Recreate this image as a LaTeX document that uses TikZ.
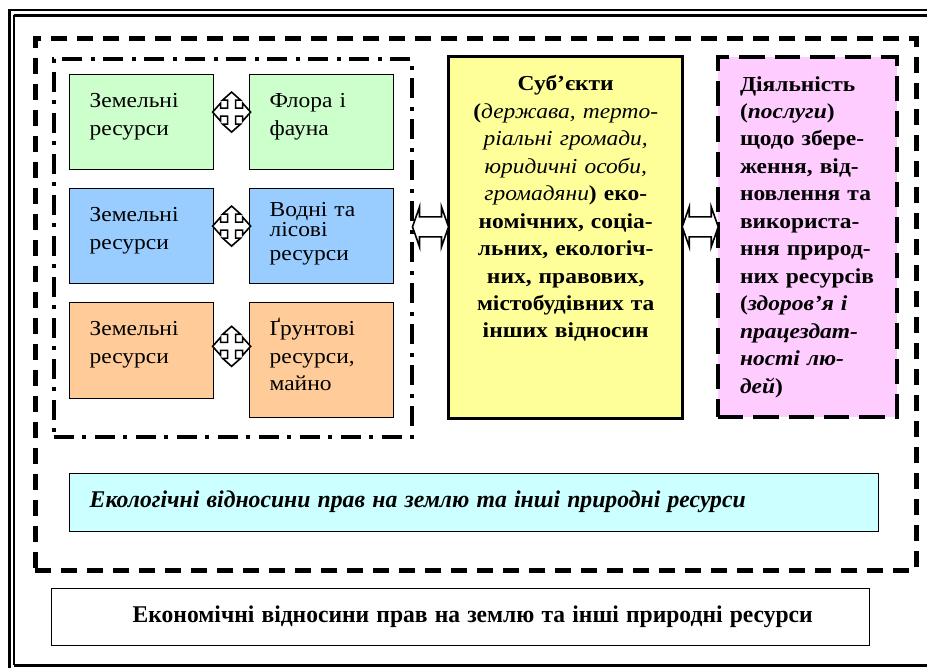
\documentclass[tikz,border=0pt]{standalone}
\usepackage{fontspec}
\setmainfont{Liberation Serif}[FakeStretch=1.1]
\usepackage{graphicx}
\usetikzlibrary{calc}
\definecolor{gfill}{HTML}{CCFFCC}
\definecolor{bfill}{HTML}{99CCFF}
\definecolor{ofill}{HTML}{FFCC99}
\definecolor{yfill}{HTML}{FFFF99}
\definecolor{pfill}{HTML}{FFCCFF}
\definecolor{cfill}{HTML}{CCFFFF}
\tikzset{
  txtfont/.style={font=\fontsize{16pt}{20.6pt}\selectfont},
  sbox/.style={draw, line width=0.9pt, anchor=north west, inner xsep=15pt, inner ysep=0pt,
    text width=78pt, align=left, txtfont, text height=24.75pt, text depth=46.5pt},
  fourway/.pic={\draw[fill=white, line width=1.2pt, miter limit=4]
    (19,0) -- (11,-9) -- (11,-4) -- (4,-4) -- (4,-12) -- (9,-12) -- (0,-20) -- (-9,-12)
    -- (-4,-12) -- (-4,-4) -- (-11,-4) -- (-11,-9) -- (-19,0) -- (-11,9) -- (-11,4)
    -- (-4,4) -- (-4,12) -- (-9,12) -- (0,20) -- (9,12) -- (4,12) -- (4,4)
    -- (11,4) -- (11,9) -- cycle;},
  dblarrow/.pic={\draw[fill=white, line width=1.2pt]
    (-18,0) -- (-11,-20) -- (-11,-10) -- (11,-10) -- (11,-20) -- (18,0) -- (11,20)
    -- (11,10) -- (-11,10) -- (-11,20) -- cycle;}
}
\begin{document}
\hyphenpenalty=10000
\exhyphenpenalty=10000
\begin{tikzpicture}[x=0.75pt,y=-0.75pt]
\useasboundingbox (0,0) rectangle (927,667);
\fill[white] (0,0) rectangle (927,667);
\clip (0,0) rectangle (927,667);
% outer double frame
\draw[line width=2.25pt] (9.5,700) -- (9.5,9.5);
\draw[line width=1pt] (8.5,10) -- (960,10);
\draw[line width=1.7pt] (13.5,15.5) -- (960,15.5);
\draw[line width=1.1pt] (14,15) -- (14,665);
\draw[line width=2.25pt] (13.5,665) -- (960,665);
% containers
\node[draw, line width=3.4pt, dash pattern=on 12pt off 7.5pt, anchor=north west, inner sep=0pt,
  minimum width=660.75pt, minimum height=399pt] (outer) at (33,36) {};
\node[draw, line width=3pt, dash pattern=on 15pt off 6pt on 3pt off 6.75pt, anchor=north west, inner sep=0pt,
  minimum width=268.5pt, minimum height=283.5pt] (dd) at (52,57) {};
% small boxes
\node[sbox, fill=gfill] (g1) at (69,74) {Земельні\\ресурси};
\node[sbox, fill=gfill] (g2) at (249,74) {Флора і\\фауна};
\node[sbox, fill=bfill] (b1) at (69,188) {Земельні\\ресурси};
\node[sbox, fill=bfill, text height=21pt, text depth=50.25pt] (b2) at (249,188) {Водні та\\[-5.6pt]лісові\\[-2.6pt]ресурси};
\node[sbox, fill=ofill, text depth=47.25pt] (o1) at (69,302) {Земельні\\ресурси};
\node[sbox, fill=ofill, text depth=61.5pt] (o2) at (249,302) {Ґрунтові\\ресурси,\\майно};
% four-way arrows
\pic at ($(g1.east)!0.5!(g2.west)+(0,-10)$) {fourway};
\pic at ($(b1.east)!0.5!(b2.west)+(0,-10)$) {fourway};
\pic at ($(o1.east)!0.5!(o2.west)+(0,-9)$) {fourway};
% subjects
\node[draw, fill=yfill, line width=2.6pt, anchor=north west, inner xsep=9pt, inner ysep=0pt,
  text width=157.5pt, align=center, txtfont, text height=25.5pt, text depth=246pt] (yel) at (447,55)
  {\textbf{Суб’єкти}\\
   \textbf{(}\textit{держава, терто-}\\
   \textit{ріальні громади,}\\
   \textit{юридичні особи,}\\
   \textit{громадяни}\textbf{) еко-}\\
   \textbf{номічних, соціа-}\\
   \textbf{льних, екологіч-}\\
   \textbf{них, правових,}\\
   \textbf{містобудівних та}\\
   \textbf{інших відносин}};
% activity
\node[draw, fill=pfill, line width=3pt, dash pattern=on 19pt off 7.5pt, anchor=north west, inner xsep=16.5pt, inner ysep=0pt,
  text width=101.25pt, align=left, txtfont, text height=25.5pt, text depth=244.5pt] (pink) at (716,55)
  {\bfseries Діяльність\\
   (\textit{послуги})\\
   щодо~збере-\\
   ження,~від-\\
   новлення~та\\
   використа-\\
   ння~природ-\\
   них~ресурсів\\
   (\textit{здоров’я~і}\\
   \textit{працездат-}\\
   \textit{ності~лю-}\\
   \textit{дей})};
% double arrows
\pic at ($(dd.east)!0.5!(yel.west)+(0,-16)$) {dblarrow};
\pic at ($(yel.east)!0.5!(pink.west)+(0,-10.5)$) {dblarrow};
% ecological relations
\node[draw, fill=cfill, line width=1.1pt, anchor=north west, inner xsep=15pt, inner ysep=0pt,
  text width=576.75pt, align=left, font=\fontsize{18pt}{20pt}\selectfont, text height=25.5pt, text depth=18pt] (eco) at (69,473)
  {\resizebox{492pt}{\height}{\bfseries\itshape Екологічні відносини прав на землю та інші природні ресурси}};
% economic relations
\node[draw, line width=1.1pt, anchor=north west, inner xsep=15pt, inner ysep=0pt,
  text width=583.5pt, align=center, font=\fontsize{18pt}{20pt}\selectfont, text height=25.5pt, text depth=17.25pt] (econ) at (51,588)
  {\hspace*{18pt}\resizebox{510pt}{\height}{\bfseries Економічні відносини прав на землю та інші природні ресурси}};
\end{tikzpicture}
\end{document}
